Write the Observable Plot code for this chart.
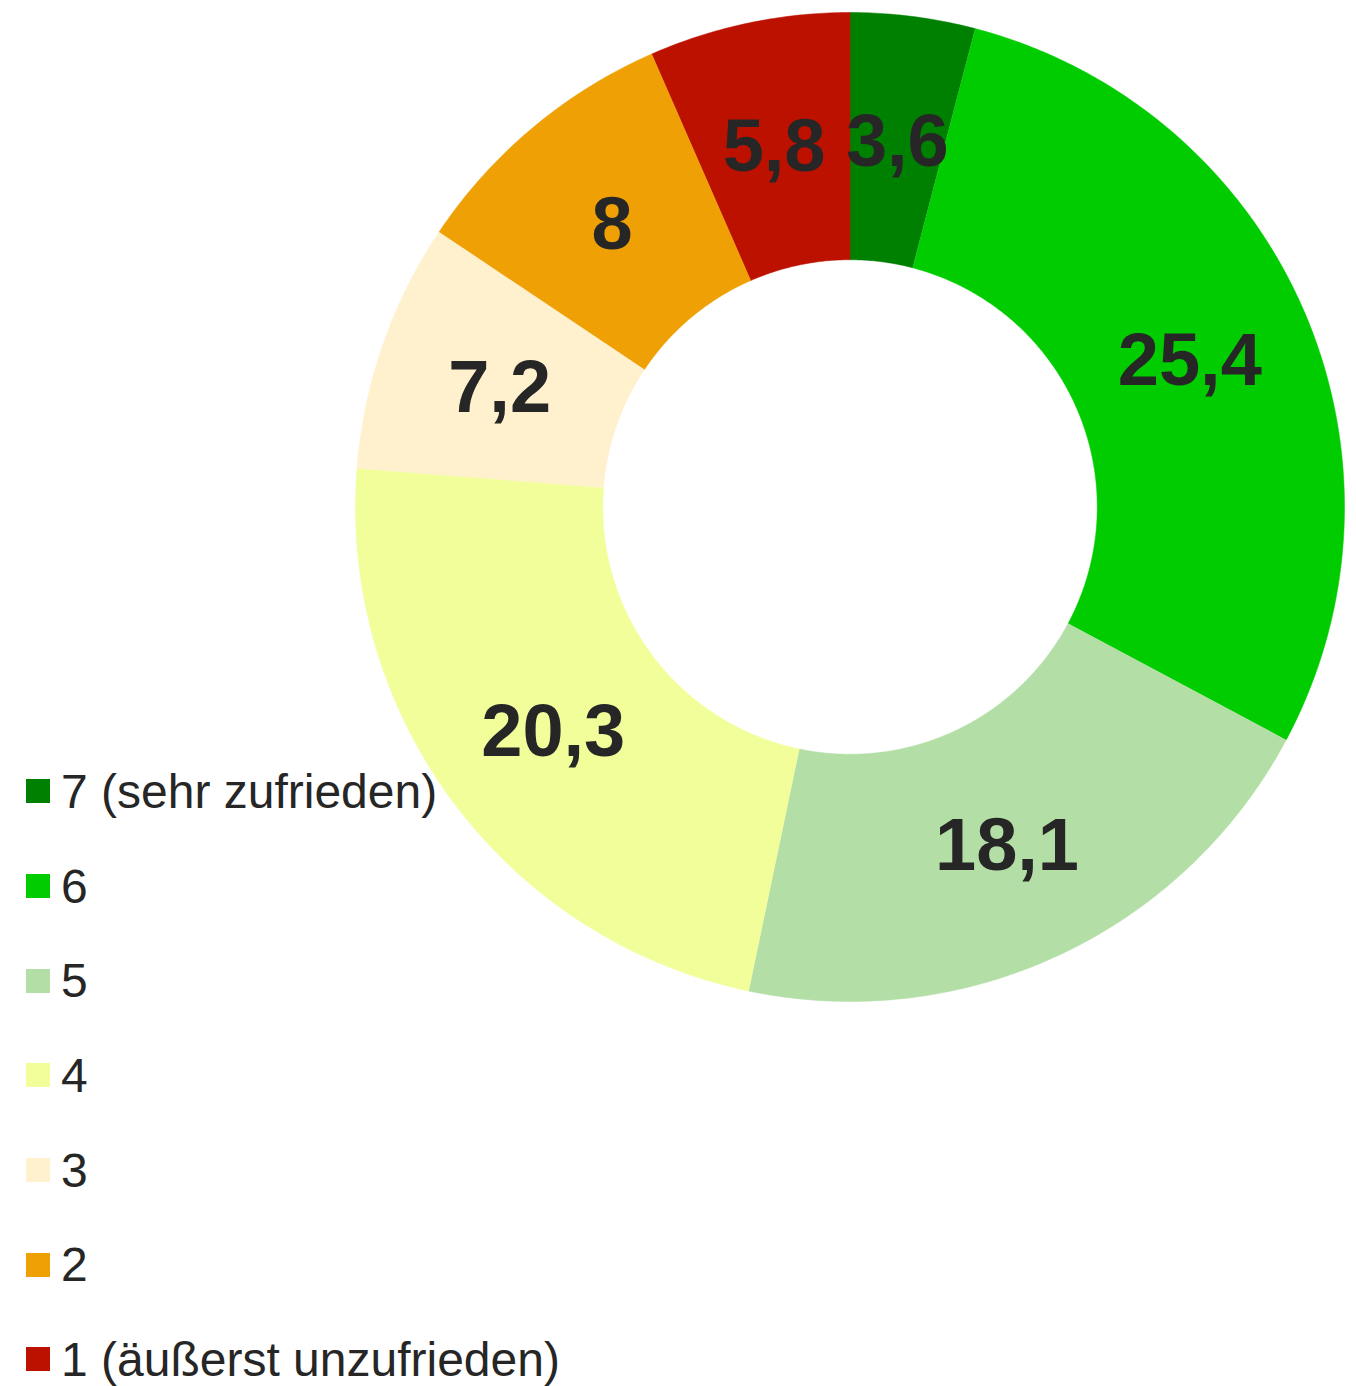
<!DOCTYPE html>
<html>
<head>
<meta charset="utf-8">
<script src="https://cdn.jsdelivr.net/npm/d3@7"></script>
<script src="https://cdn.jsdelivr.net/npm/@observablehq/plot@0.6"></script>
<style>
  html, body { margin: 0; padding: 0; background: #fff; }
  #wrap { position: relative; width: 1356px; height: 1386px; font-family: "Liberation Sans", Arial, sans-serif; }
  #legend { position: absolute; left: 26px; top: 744px; }
  .item { display: flex; align-items: center; height: 94.7px; }
  .sw { width: 24px; height: 24px; margin-right: 11px; }
  .lab { font-size: 48px; color: #262626; white-space: nowrap; }
</style>
</head>
<body>
<div id="wrap"></div>
<script>
const categories = ["7 (sehr zufrieden)", "6", "5", "4", "3", "2", "1 (äußerst unzufrieden)"];
const values = [3.6, 25.4, 18.1, 20.3, 7.2, 8, 5.8];
const colors = ["#008000", "#00cc00", "#b3dfa6", "#f1fe9a", "#fff0ce", "#eea004", "#bd1100"];

const innerR = 0.5, outerR = 1;
const arcs = d3.pie().sort(null).value(d => d.value)(categories.map((c, i) => ({category: c, value: values[i]})));

// polygon points for each slice
const pts = [];
for (const a of arcs) {
  const n = Math.max(2, Math.ceil((a.endAngle - a.startAngle) / (Math.PI / 360)));
  for (let k = 0; k <= n; k++) {
    const t = a.startAngle + (a.endAngle - a.startAngle) * k / n;
    pts.push({category: a.data.category, x: outerR * Math.sin(t), y: outerR * Math.cos(t)});
  }
  for (let k = n; k >= 0; k--) {
    const t = a.startAngle + (a.endAngle - a.startAngle) * k / n;
    pts.push({category: a.data.category, x: innerR * Math.sin(t), y: innerR * Math.cos(t)});
  }
}
const labels = arcs.map(a => {
  const m = (a.startAngle + a.endAngle) / 2, r = (innerR + outerR) / 2;
  return {x: r * Math.sin(m), y: r * Math.cos(m), text: String(a.data.value).replace(".", ",")};
});

const chart = Plot.plot({
  width: 1356,
  height: 1386,
  margin: 0,
  marginLeft: 355, marginRight: 12, marginTop: 12, marginBottom: 385,
  x: {domain: [-1, 1], axis: null},
  y: {domain: [-1, 1], axis: null},
  color: {domain: categories, range: colors},
  style: {background: "transparent"},
  marks: [
    Plot.line(pts, {x: "x", y: "y", z: "category", fill: "category", stroke: "category", strokeWidth: 0.5, curve: "linear"}),
    Plot.text(labels, {x: "x", y: "y", text: "text", dy: 3, fontSize: 74, fontWeight: "bold", fill: "#262626", fontFamily: "Liberation Sans, Arial, sans-serif"})
  ]
});
chart.style.position = "absolute";
chart.style.left = "0";
chart.style.top = "0";
const wrap = document.getElementById("wrap");
wrap.appendChild(chart);

const legend = document.createElement("div");
legend.id = "legend";
categories.forEach((c, i) => {
  const it = document.createElement("div");
  it.className = "item";
  const sw = document.createElement("div");
  sw.className = "sw";
  sw.style.background = colors[i];
  const lb = document.createElement("span");
  lb.className = "lab";
  lb.textContent = c;
  it.appendChild(sw);
  it.appendChild(lb);
  legend.appendChild(it);
});
wrap.appendChild(legend);
</script>
</body>
</html>
